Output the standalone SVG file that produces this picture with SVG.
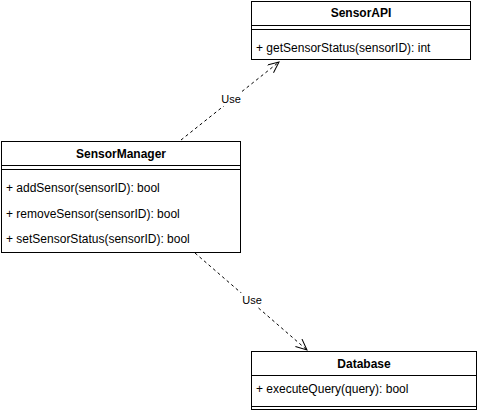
<svg xmlns="http://www.w3.org/2000/svg" width="481" height="411" viewBox="0 0 481 411">
<style>
.box{fill:#fff;stroke:#000;stroke-width:1}
.sep{stroke:#000;stroke-width:1}
.title{font-family:"Liberation Sans",Arial,sans-serif;font-size:12px;font-weight:bold;text-anchor:middle;fill:#000}
.mem{font-family:"Liberation Sans",Arial,sans-serif;font-size:12px;fill:#000}
.edge{fill:none;stroke:#000;stroke-width:1;stroke-dasharray:3 3}
.lbl{font-family:"Liberation Sans",Arial,sans-serif;font-size:11px;text-anchor:middle;fill:#000}
</style>
<defs>
<marker id="open" markerUnits="userSpaceOnUse" markerWidth="14" markerHeight="12" refX="12" refY="5" orient="auto">
<path d="M1,0 L12,5 L1,10" fill="none" stroke="#000" stroke-width="1"/>
</marker>
</defs>
<g id="connectors">
<path class="edge" d="M181,140 L279,62" marker-end="url(#open)"/>
<rect x="219" y="92" width="24" height="14" fill="#fff"/>
<text class="lbl" x="231" y="103">Use</text>
<path class="edge" d="M195,253 L307,350" marker-end="url(#open)"/>
<rect x="240" y="293" width="24" height="14" fill="#fff"/>
<text class="lbl" x="252" y="304">Use</text>
</g>
<g id="SensorAPI">
<rect class="box" x="251.5" y="1.5" width="219" height="58"/>
<line class="sep" x1="251.5" y1="25.5" x2="470.5" y2="25.5"/>
<line class="sep" x1="251.5" y1="29.5" x2="470.5" y2="29.5"/>
<text class="title" x="361" y="17">SensorAPI</text>
<text class="mem" x="256" y="52">+ getSensorStatus(sensorID): int</text>
</g>
<g id="SensorManager">
<rect class="box" x="1.5" y="141.5" width="239" height="111"/>
<line class="sep" x1="1.5" y1="165.5" x2="240.5" y2="165.5"/>
<line class="sep" x1="1.5" y1="169.5" x2="240.5" y2="169.5"/>
<text class="title" x="121" y="158">SensorManager</text>
<text class="mem" x="6" y="192">+ addSensor(sensorID): bool</text>
<text class="mem" x="6" y="218">+ removeSensor(sensorID): bool</text>
<text class="mem" x="6" y="243">+ setSensorStatus(sensorID): bool</text>
</g>
<g id="Database">
<rect class="box" x="251.5" y="351.5" width="225" height="58"/>
<line class="sep" x1="251.5" y1="375.5" x2="476.5" y2="375.5"/>
<line class="sep" x1="251.5" y1="406.5" x2="476.5" y2="406.5"/>
<text class="title" x="364" y="368">Database</text>
<text class="mem" x="256" y="393">+ executeQuery(query): bool</text>
</g>
</svg>
